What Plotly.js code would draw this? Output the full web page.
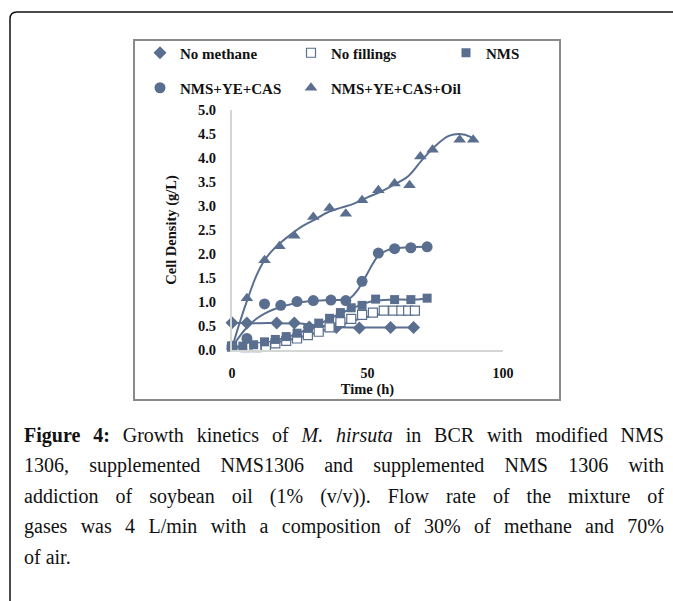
<!DOCTYPE html>
<html>
<head>
<meta charset="utf-8">
<script src="https://cdn.plot.ly/plotly-3.0.1.min.js"></script>
<style>html,body{margin:0;padding:0;background:#fff;}#chart{width:673px;height:601px;}</style>
</head>
<body>
<div id="chart"></div>
<script>
// ---- data ----
const timeNoMethane = [0, 5.5, 16.5, 23, 28.5, 38.5, 47, 58.5, 67];
const noMethane     = [0.57, 0.56, 0.56, 0.56, 0.48, 0.47, 0.46, 0.47, 0.47];
const fitNoMethaneT = [0, 5, 15, 25, 30, 38, 47, 58, 67];
const fitNoMethane  = [0.57, 0.56, 0.56, 0.55, 0.52, 0.48, 0.47, 0.47, 0.47];

const timeNoFill = [0, 5, 9, 12.5, 16, 20, 24, 28, 32, 36, 40, 44, 48, 52, 56, 59.5, 62.5, 65, 67.5];
const noFill     = [0.07, 0.06, 0.06, 0.08, 0.14, 0.19, 0.24, 0.31, 0.38, 0.47, 0.58, 0.65, 0.73, 0.78, 0.82, 0.82, 0.82, 0.82, 0.82];
const fitNoFillT = [0, 10, 20, 30, 40, 48, 55, 62, 68];
const fitNoFill  = [0.04, 0.1, 0.2, 0.34, 0.52, 0.66, 0.75, 0.8, 0.82];

const timeNMS = [0, 4, 8, 12, 16, 20, 24, 28, 32, 36, 40, 44, 48, 53, 60, 66, 72];
const nms     = [0.08, 0.08, 0.11, 0.17, 0.22, 0.28, 0.35, 0.45, 0.56, 0.66, 0.78, 0.88, 0.93, 1.06, 1.05, 1.05, 1.08];
const fitNMST = [0, 8, 16, 24, 32, 40, 44, 48, 52, 56, 60, 66, 72];
const fitNMS  = [0.07, 0.1, 0.2, 0.34, 0.54, 0.76, 0.86, 0.95, 1.02, 1.04, 1.05, 1.05, 1.07];

const timeYE = [0, 5.5, 12, 18, 24, 30, 36.5, 42, 48, 54, 60, 66, 72];
const ye     = [0.08, 0.24, 0.96, 0.93, 1.01, 1.03, 1.04, 1.03, 1.43, 2.02, 2.11, 2.13, 2.15];
const fitYET = [0, 3, 6, 9, 12, 16, 20, 25, 30, 36, 42, 44, 46, 48, 50, 52, 54, 57, 60, 65, 72];
const fitYE  = [0.05, 0.3, 0.5, 0.65, 0.76, 0.86, 0.93, 0.99, 1.02, 1.04, 1.05, 1.1, 1.22, 1.4, 1.6, 1.8, 1.97, 2.07, 2.12, 2.14, 2.15];

const timeOil = [0, 5.5, 12, 17.5, 23, 30, 36, 42, 48, 54, 60, 65.5, 69.5, 74, 84, 89];
const oil     = [0.07, 1.08, 1.87, 2.16, 2.38, 2.77, 2.96, 2.84, 3.12, 3.33, 3.47, 3.43, 4.03, 4.17, 4.38, 4.38];
const fitOilT = [0, 3, 6, 9, 12, 15, 18, 22, 26, 30, 35, 40, 45, 50, 55, 60, 65, 70, 75, 80, 84, 88, 90];
const fitOil  = [0.04, 0.6, 1.1, 1.55, 1.87, 2.08, 2.24, 2.42, 2.58, 2.7, 2.86, 2.96, 3.05, 3.18, 3.3, 3.45, 3.62, 3.95, 4.25, 4.46, 4.5, 4.44, 4.35];

const seriesNames = ['No methane', 'No fillings', 'NMS', 'NMS+YE+CAS', 'NMS+YE+CAS+Oil'];
const xTicks = [0, 50, 100];
const xTitle = 'Time (h)';
const yTitle = 'Cell Density (g/L)';

const captionLines = [
  [{t:'Figure 4:', w:'bold', s:'normal'}, {t:' Growth kinetics of ', w:'normal', s:'normal'}, {t:'M. hirsuta', w:'normal', s:'italic'}, {t:' in BCR with modified NMS', w:'normal', s:'normal'}],
  [{t:'1306, supplemented NMS1306 and supplemented NMS 1306 with', w:'normal', s:'normal'}],
  [{t:'addiction of soybean oil (1% (v/v)). Flow rate of the mixture of', w:'normal', s:'normal'}],
  [{t:'gases was 4 L/min with a composition of 30% of methane and 70%', w:'normal', s:'normal'}],
  [{t:'of air.', w:'normal', s:'normal'}]
];

// ---- layout helpers ----
const W = 673, H = 601;
const X = px => px / W;
const Y = py => 1 - py / H;
const C = '#5a6f8f';
const F = 'Liberation Serif, Times New Roman, serif';

function markerTrace(x, y, name, marker, legend) {
  return {x, y, name, type:'scatter', mode:'markers', marker, cliponaxis:false, legend, hoverinfo:'x+y'};
}
function fitTrace(x, y) {
  return {x, y, type:'scatter', mode:'lines', line:{color:C, width:2, shape:'spline', smoothing:1}, showlegend:false, hoverinfo:'skip', cliponaxis:false};
}

const traces = [
  fitTrace(fitNoMethaneT, fitNoMethane),
  fitTrace(fitNoFillT, fitNoFill),
  fitTrace(fitNMST, fitNMS),
  fitTrace(fitYET, fitYE),
  fitTrace(fitOilT, fitOil),
  markerTrace(timeNoMethane, noMethane, seriesNames[0], {symbol:'diamond', size:10, color:C}, 'legend'),
  markerTrace(timeNoFill, noFill, seriesNames[1], {symbol:'square', size:9, color:'#ffffff', line:{color:C, width:1.2}}, 'legend2'),
  markerTrace(timeNMS, nms, seriesNames[2], {symbol:'square', size:9, color:C}, 'legend3'),
  markerTrace(timeYE, ye, seriesNames[3], {symbol:'circle', size:11, color:C}, 'legend4'),
  markerTrace(timeOil, oil, seriesNames[4], {symbol:'triangle-up', size:11, color:C}, 'legend5')
];

// caption with justified lines (word-spacing computed via canvas measurement)
const CAP_SIZE = 20;
const ctx = document.createElement('canvas').getContext('2d');
function segHtml(sg) {
  let t = sg.t;
  if (sg.w === 'bold') t = '<b>' + t + '</b>';
  if (sg.s === 'italic') t = '<i>' + t + '</i>';
  return t;
}
const captionAnnots = captionLines.map((segs, i) => {
  let width = 0, spaces = 0;
  segs.forEach(sg => {
    ctx.font = `${sg.s} ${sg.w} ${CAP_SIZE}px "Liberation Serif"`;
    width += ctx.measureText(sg.t).width;
    spaces += (sg.t.match(/ /g) || []).length;
  });
  const target = 640;
  let ws = (i < 4 && spaces > 0) ? (target - width) / spaces : 0;
  const html = `<span style="word-spacing:${ws.toFixed(2)}px">` + segs.map(segHtml).join('') + '</span>';
  return {
    text: html, xref:'paper', yref:'paper', x: X(22), y: Y(435 + i * 30.5),
    xanchor:'left', yanchor:'middle', showarrow:false, align:'left',
    font:{family:F, size:CAP_SIZE, color:'#111'}
  };
});

const framePath = `M ${X(10)},${Y(601)} L ${X(10)},${Y(19)} Q ${X(10)},${Y(12)} ${X(17)},${Y(12)} L ${X(673)},${Y(12)}`;

function legendAt(px, py) {
  return {
    orientation:'h', x: X(px), y: Y(py), xanchor:'left', yanchor:'middle',
    bgcolor:'rgba(0,0,0,0)', borderwidth:0,
    font:{family:F, size:15, color:'#111', weight:'bold'}
  };
}

const layout = {
  width: W, height: H,
  margin: {l:0, r:0, t:0, b:0},
  paper_bgcolor:'#ffffff', plot_bgcolor:'#ffffff',
  showlegend: true,
  xaxis: {
    domain:[X(232), X(503)], range:[0, 100], tickvals: xTicks,
    showline:true, linecolor:'#d4d6d4', linewidth:2, showgrid:false, zeroline:false,
    ticks:'', ticklabelstandoff: 9,
    tickfont:{family:F, size:14, color:'#111', weight:'bold'},
    title:{text:'<b>' + xTitle + '</b>', font:{family:F, size:14.5, color:'#111'}, standoff: 3}
  },
  yaxis: {
    domain:[Y(350), Y(110)], range:[0, 5], dtick:0.5, tickformat:'.1f',
    showline:true, linecolor:'#d4d6d4', linewidth:2, showgrid:false, zeroline:false,
    ticks:'', ticklabelstandoff: 11,
    tickfont:{family:F, size:14.5, color:'#111', weight:'bold'},
    title:{text:'<b>' + yTitle + '</b>', font:{family:F, size:14.5, color:'#111'}, standoff: 18}
  },
  legend:  legendAt(140, 53),
  legend2: legendAt(291, 53),
  legend3: legendAt(446, 53),
  legend4: legendAt(140, 88),
  legend5: legendAt(291, 88),
  shapes: [
    {type:'path', xref:'paper', yref:'paper', path: framePath, line:{color:'#111', width:1.5}},
    {type:'rect', xref:'paper', yref:'paper', x0:X(134), x1:X(560), y0:Y(40), y1:Y(400), line:{color:'#8a8a8a', width:2}, layer:'below'}
  ],
  annotations: captionAnnots
};

Plotly.newPlot('chart', traces, layout, {displayModeBar:false, staticPlot:true});
</script>
</body>
</html>
